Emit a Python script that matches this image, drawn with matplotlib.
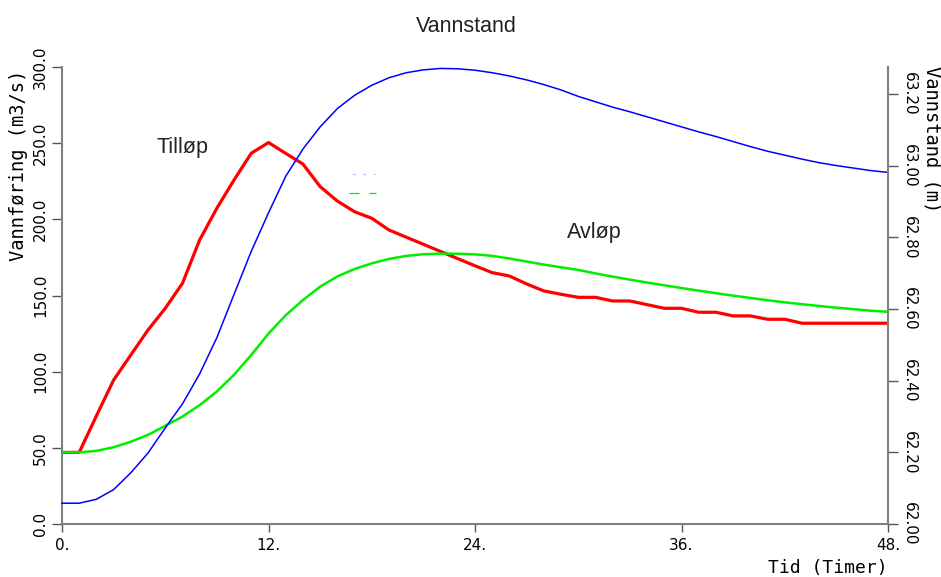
import matplotlib
matplotlib.use("Agg")
import matplotlib.pyplot as plt

hours = list(range(0, 49))

tillop = [47, 47, 71, 94.5, 111, 127.4, 141.6, 158, 186.5, 207.3, 225.9, 243.4, 250.4,
          243.3, 236.3, 221.5, 212, 205, 200.7, 193, 188.3, 183.6, 178.9, 174.2, 169.5,
          165, 162.8, 157.6, 153, 150.8, 148.8, 148.8, 146.4, 146.4, 144, 141.6, 141.6,
          139, 139, 136.6, 136.6, 134.4, 134.4, 131.8, 131.8, 131.8, 131.8, 131.8, 131.8]

avlop = [47, 47, 48, 50.4, 54, 58.5, 64.5, 70.5, 78, 87, 98, 111, 125, 137, 147, 155.8,
         162.5, 167.4, 171.1, 174, 176, 177.1, 177.5, 177.4, 177, 176, 174.3, 172.3, 170.3,
         168.5, 166.8, 164.5, 162.4, 160.4, 158.5, 156.7, 154.9, 153.2, 151.5, 149.9, 148.4,
         146.9, 145.5, 144.3, 143.1, 142, 141, 140, 139.3]

vannstand = [62.058, 62.058, 62.069, 62.096, 62.143, 62.198, 62.268, 62.335, 62.419, 62.520,
             62.641, 62.761, 62.868, 62.970, 63.046, 63.108, 63.159, 63.196, 63.224, 63.245,
             63.259, 63.267, 63.271, 63.270, 63.266, 63.259, 63.250, 63.239, 63.226, 63.211,
             63.193, 63.178, 63.163, 63.150, 63.136, 63.122, 63.108, 63.094, 63.081, 63.067,
             63.053, 63.040, 63.029, 63.018, 63.008, 63.000, 62.993, 62.986, 62.981]

x_ticks = [0, 12, 24, 36, 48]
x_ticklabels = ["0.", "12.", "24.", "36.", "48."]
left_ticks = [0, 50, 100, 150, 200, 250, 300]
right_ticks = [62.0, 62.2, 62.4, 62.6, 62.8, 63.0, 63.2]

title = "Vannstand"
xlabel = "Tid (Timer)"
ylabel_left = "Vannføring (m3/s)"
ylabel_right = "Vannstand (m)"

plt.rcParams['lines.scale_dashes'] = False

fig = plt.figure(figsize=(9.41, 5.77), dpi=100)
ax = fig.add_axes([62/941, 53/577, 826/941, 457/577])
ax2 = ax.twinx()

spine_c = '#808080'
tick_c = '#555555'

ax.plot(hours, tillop, color='#ff0000', lw=2.3, zorder=2)
ax.plot(hours, avlop, color='#00ee00', lw=1.8, zorder=3)
ax2.plot(hours, vannstand, color='#0000ff', lw=1.1, clip_on=False)

ax.set_xlim(0, 48)
ax.set_ylim(0, 300)
ax2.set_ylim(62.0, 63.275)

ax.set_xticks(x_ticks)
ax.set_xticklabels(x_ticklabels)
ax.set_yticks(left_ticks)
ax.set_yticklabels([f"{v:.1f}" for v in left_ticks])
ax2.set_yticks(right_ticks)
ax2.set_yticklabels([f"{v:.2f}" for v in right_ticks])

for a in (ax, ax2):
    a.spines['top'].set_visible(False)
    for s in a.spines.values():
        s.set_color(spine_c)
        s.set_linewidth(1.5)
ax.spines['right'].set_visible(False)
ax2.spines['left'].set_visible(False)
ax2.spines['bottom'].set_visible(False)

ax.tick_params(axis='x', direction='out', length=6, width=1, color=tick_c, pad=4,
               labelsize=11)
ax.tick_params(axis='y', direction='out', length=7, width=1, color=tick_c, pad=3,
               labelsize=11, labelrotation=90)
ax2.tick_params(axis='y', direction='out', length=7, width=1, color=tick_c, pad=3,
                labelsize=11, labelrotation=-90)
for lbl in ax.get_yticklabels():
    lbl.set_va('center')
for lbl in ax2.get_yticklabels():
    lbl.set_va('center')

# small legend remnants
ax.plot([0.352, 0.3786], [0.765, 0.765], transform=ax.transAxes, color='#9999ff',
        lw=0.8, dashes=(1.5, 6))
ax.plot([0.3475, 0.3798], [0.7236, 0.7236], transform=ax.transAxes, color='#00ee00',
        lw=0.9, dashes=(7.2, 7.2))

mono = 'DejaVu Sans Mono'
fig.text(19/941, 1 - 70/577, ylabel_left, rotation=90, ha='center', va='top',
         family=mono, fontsize=13.5)
fig.text(932/941, 1 - 66/577, ylabel_right, rotation=270, ha='center', va='top',
         family=mono, fontsize=13.5)
fig.text(888/941, 1 - 568/577, xlabel, ha='right', va='center', family=mono,
         fontsize=13)

fig.text(466.7/941, 1 - 31.7/577, title, ha='center', va='baseline',
         family='Liberation Sans', fontsize=15.5, color='#222222')
fig.text(156.7/941, 1 - 153/577, "Tilløp", ha='left', va='baseline',
         family='Liberation Sans', fontsize=15.5, color='#222222')
fig.text(566.7/941, 1 - 238.3/577, "Avløp", ha='left', va='baseline',
         family='Liberation Sans', fontsize=15.5, color='#222222')

fig.savefig("out.png", dpi=100)
